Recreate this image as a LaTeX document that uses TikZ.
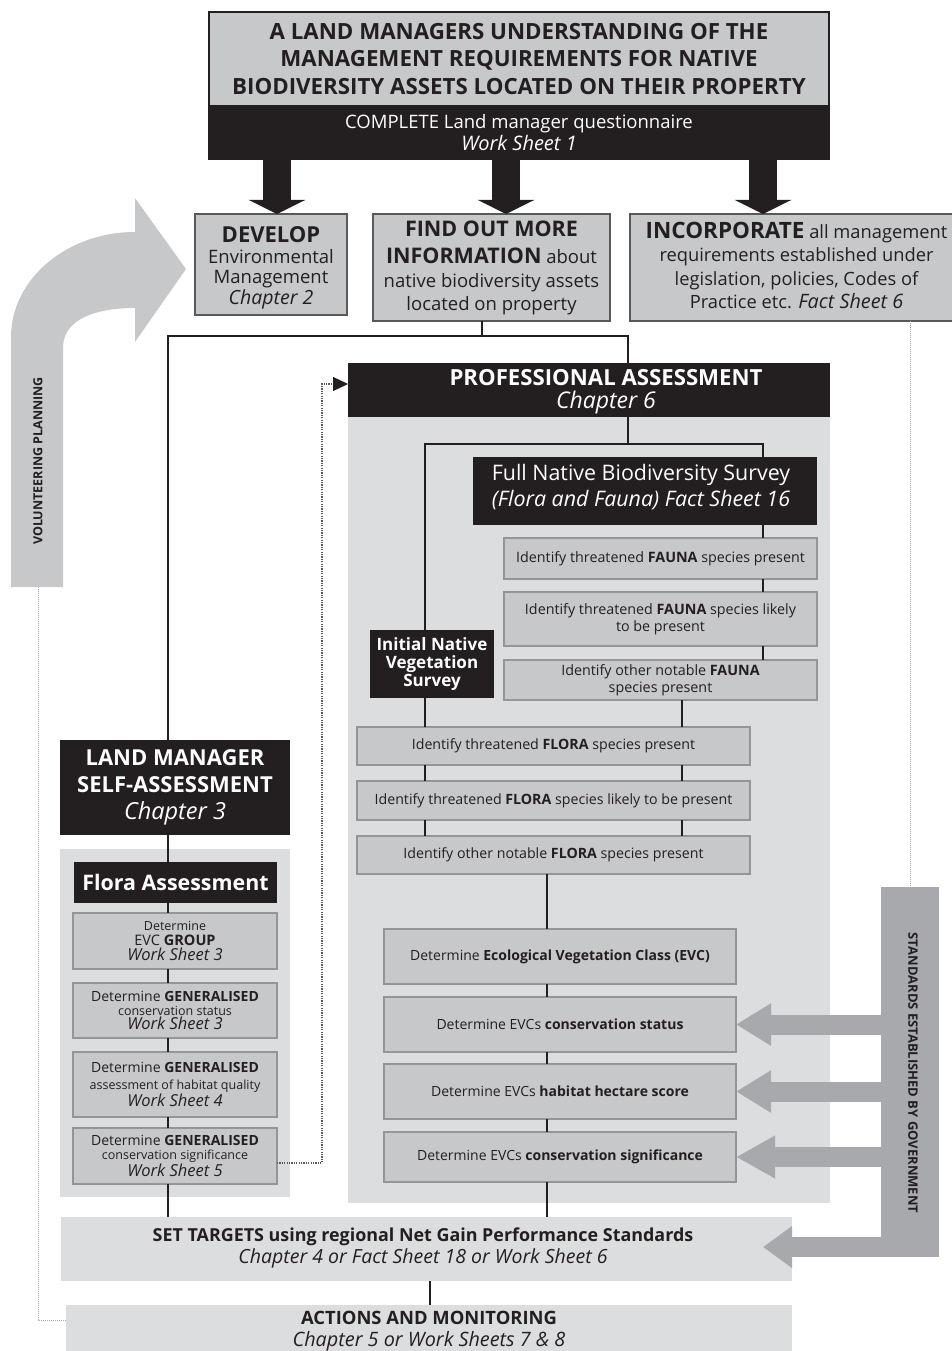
\documentclass[tikz,border=0pt]{standalone}
\usepackage{fontspec}
\setmainfont{Open Sans}
\usetikzlibrary{arrows.meta}
\definecolor{ink}{HTML}{231F20}
\definecolor{boxgray}{HTML}{C7C8CA}
\definecolor{panelgray}{HTML}{DCDDDF}
\definecolor{edgegray}{HTML}{939598}
\definecolor{framegray}{HTML}{58595B}
\definecolor{govgray}{HTML}{A7A9AC}
\newcommand\fsz[2]{\fontsize{#1pt}{#2pt}\selectfont}

\begin{document}
\begin{tikzpicture}[x=1pt,y=-1pt,
  every node/.style={inner sep=0pt, outer sep=0pt, align=center, text=ink},
  topbox/.style={fill=boxgray, draw=ink, line width=2pt},
  choicebox/.style={fill=boxgray, draw=framegray, line width=1.6pt},
  darkbox/.style={fill=ink, text=white},
  stepbox/.style={fill=boxgray, draw=edgegray, line width=2pt},
  panel/.style={fill=panelgray},
  link/.style={draw=ink, line width=1.8pt},
  bigdown/.style={draw=ink, line width=28.5pt, -{Triangle[length=14pt,width=56pt]}},
  govarrow/.style={draw=govgray, line width=20pt, -{Triangle[length=35pt,width=40pt]}},
  dotdark/.style={draw=framegray, line width=1.2pt, dash pattern=on 1.2pt off 1.2pt},
  dotlight/.style={draw=govgray, line width=1pt, dash pattern=on 1pt off 1pt},
]
\useasboundingbox (0,0) rectangle (952,1351);
\clip (0,0) rectangle (952,1351);

% background panels
\node[panel, minimum width=482pt, minimum height=786pt] (profpanel) at (589,810) {};
\node[panel, minimum width=230pt, minimum height=348pt] (florapanel) at (175,1023) {};
\node[panel, minimum width=731pt, minimum height=64pt] (set) at (426.5,1249) {};
\node[font=\fsz{17.9}{22}] (settext) at (423,1248)
  {\textbf{SET TARGETS using regional Net Gain Performance Standards}\\{\fsz{19.5}{22}\itshape Chapter 4 or Fact Sheet 18 or Work Sheet 6}};
\node[panel, minimum width=726pt, minimum height=55pt] (act) at (429,1332.5) {};
\node[font=\fsz{18.4}{22}] (acttext) at (429,1331.5)
  {\textbf{ACTIONS AND MONITORING}\\{\fsz{19.8}{22}\itshape Chapter 5 or Work Sheets 7 \& 8}};

% volunteering planning arrow
\fill[boxgray] (11,587) -- (11,337) .. controls (11,279) and (67,232) .. (135,232)
  -- (135,198) -- (186,269) -- (135,342) -- (135,308)
  .. controls (98,308) and (63,318) .. (63,348) -- (63,587) -- cycle;
\node[rotate=90, font=\fsz{12.5}{14}\bfseries] (vollabel) at (38,461) {VOLUNTEERING PLANNING};

% header and first-level boxes
\node[topbox, minimum width=620pt, minimum height=94pt, font=\fsz{22.3}{27.5}\bfseries] (top) at (519,59)
  {A LAND MANAGERS UNDERSTANDING OF THE\\MANAGEMENT REQUIREMENTS FOR NATIVE\\BIODIVERSITY ASSETS LOCATED ON THEIR PROPERTY};
\node[darkbox, minimum width=622pt, minimum height=55pt, font=\fsz{18.5}{22}] (band) at (519,132.5)
  {COMPLETE Land manager questionnaire\\{\fsz{20}{22}\itshape Work Sheet 1}};

\node[choicebox, minimum width=152pt, minimum height=101pt] (dev) at (271,264.5) {};
\node[font=\fsz{18.5}{20.7}] (devtext) at (271,268)
  {{\fsz{22}{20.7}\bfseries DEVELOP}\\Environmental\\Management\\{\fsz{19.5}{20.7}\itshape Chapter 2}};
\node[choicebox, minimum width=237pt, minimum height=107pt, font=\fsz{18.5}{22.5}] (find) at (491.5,267.5)
  {{\fsz{21.5}{22.5}\bfseries FIND OUT MORE}\\[5pt]{\fsz{21.5}{22.5}\bfseries INFORMATION} about\\[1.5pt]native biodiversity assets\\located on property};
\node[choicebox, minimum width=333pt, minimum height=107pt] (inc) at (796.5,267.5) {};
\node[font=\fsz{18.3}{23.3}] (inctext) at (796.5,265.5)
  {{\fsz{22.5}{23.3}\bfseries INCORPORATE} all management\\requirements established under\\legislation, policies, Codes of\\Practice etc. {\fsz{19.8}{23.3}\itshape Fact Sheet 6}};

% thick arrows from the header
\coordinate (ar1) at (277,0);
\coordinate (ar2) at (506,0);
\coordinate (ar3) at (763,0);
\draw[bigdown] (band.south -| ar1) -- (dev.north -| ar1);
\draw[bigdown] (band.south -| ar2) -- (find.north -| ar2);
\draw[bigdown] (band.south -| ar3) -- (inc.north -| ar3);

% professional assessment header
\node[darkbox, minimum width=482pt, minimum height=54pt] (prof) at (589,390) {};
\node[text=white, font=\fsz{22.2}{23}] (proftext) at (606,391.5)
  {\textbf{PROFESSIONAL ASSESSMENT}\\{\fsz{23}{23}\itshape Chapter 6}};

% professional assessment steps
\node[darkbox, minimum width=344pt, minimum height=68pt] (full) at (645,491) {};
\node[text=white, font=\fsz{21.4}{26}] (fulltext) at (641,487)
  {Full Native Biodiversity Survey\\\textit{(Flora and Fauna) Fact Sheet 16}};
\node[stepbox, minimum width=313pt, minimum height=41pt, font=\fsz{14.3}{17.5}] (fa1) at (660.5,558.5)
  {Identify threatened \textbf{FAUNA} species present};
\node[stepbox, minimum width=313pt, minimum height=54pt, font=\fsz{14.3}{17.5}] (fa2) at (660.5,619)
  {Identify threatened \textbf{FAUNA} species likely\\to be present};
\node[stepbox, minimum width=313pt, minimum height=40pt, font=\fsz{14.3}{17.5}] (fa3) at (660.5,680)
  {Identify other notable \textbf{FAUNA}\\species present};
\node[darkbox, minimum width=124pt, minimum height=68pt, font=\fsz{17}{18}\bfseries] (ini) at (432,664)
  {Initial Native\\Vegetation\\Survey};
\node[stepbox, minimum width=393pt, minimum height=38pt, font=\fsz{14.2}{17}] (fl1) at (553.5,746)
  {Identify threatened \textbf{FLORA} species present};
\node[stepbox, minimum width=393pt, minimum height=39pt, font=\fsz{14.2}{17}] (fl2) at (553.5,800.5)
  {Identify threatened \textbf{FLORA} species likely to be present};
\node[stepbox, minimum width=393pt, minimum height=38pt, font=\fsz{14.2}{17}] (fl3) at (553.5,855)
  {Identify other notable \textbf{FLORA} species present};
\node[stepbox, minimum width=352pt, minimum height=55pt, font=\fsz{14}{17}] (evc) at (560,956.5)
  {Determine \textbf{Ecological Vegetation Class (EVC)}};
\node[stepbox, minimum width=352pt, minimum height=55pt, font=\fsz{14}{17}] (st) at (560,1024.5)
  {Determine EVCs \textbf{conservation status}};
\node[stepbox, minimum width=352pt, minimum height=55pt, font=\fsz{14}{17}] (hh) at (560,1091.5)
  {Determine EVCs \textbf{habitat hectare score}};
\node[stepbox, minimum width=352pt, minimum height=50pt, font=\fsz{14}{17}] (sig) at (560,1157)
  {Determine EVCs \textbf{conservation significance}};

% land manager self-assessment
\node[darkbox, minimum width=230pt, minimum height=95pt, font=\fsz{22}{27}\bfseries] (lm) at (175,787.5)
  {LAND MANAGER\\SELF-ASSESSMENT\\{\fsz{23.5}{27}\mdseries\itshape Chapter 3}};
\node[darkbox, minimum width=203pt, minimum height=41pt, font=\fsz{21.4}{22}\bfseries] (fassess) at (175.5,882.5)
  {Flora Assessment};
\node[stepbox, minimum width=204pt, minimum height=56pt, font=\fsz{13}{15}] (g1) at (175,941)
  {{\fsz{12.5}{15}Determine}\\{\fsz{14.5}{15}EVC \textbf{GROUP}}\\{\fsz{16.5}{15}\itshape Work Sheet 3}};
\node[stepbox, minimum width=204pt, minimum height=55pt, font=\fsz{13}{14}] (g2) at (175,1010.5)
  {{\fsz{14}{14}Determine \textbf{GENERALISED}}\\{\fsz{12.5}{14}conservation status}\\{\fsz{16.5}{14}\itshape Work Sheet 3}};
\node[stepbox, minimum width=204pt, minimum height=65pt, font=\fsz{13}{17}] (g3) at (175,1084.5)
  {{\fsz{14}{17}Determine \textbf{GENERALISED}}\\{\fsz{12.5}{17}assessment of habitat quality}\\{\fsz{16.5}{17}\itshape Work Sheet 4}};
\node[stepbox, minimum width=204pt, minimum height=56pt, font=\fsz{13}{14}] (g4) at (175,1156)
  {{\fsz{14}{14}Determine \textbf{GENERALISED}}\\{\fsz{12.5}{14}conservation significance}\\{\fsz{16.5}{14}\itshape Work Sheet 5}};

% standards bar
\node[fill=govgray, minimum width=58pt, minimum height=370pt] (std) at (910,1072) {};

% connectors
\coordinate (busL) at (168,336);
\coordinate (busM) at (482,336);
\coordinate (busR) at (628,336);
\draw[link] (find.south -| busM) -- (busM);
\draw[link] (lm.north -| busL) -- (busL) -- (busR) -- (prof.north -| busR);

\coordinate (forkL) at (425,444);
\coordinate (forkM) at (628,444);
\coordinate (forkR) at (763,444);
\draw[link] (prof.south -| forkM) -- (forkM);
\draw[link] (ini.north -| forkL) -- (forkL) -- (forkR) -- (full.north -| forkR);
\draw[link] (full.south -| forkR) -- (fa1.north -| forkR);
\draw[link] (fa1.south -| forkR) -- (fa2.north -| forkR);
\draw[link] (fa2.south -| forkR) -- (fa3.north -| forkR);

\coordinate (colF) at (682,0);
\draw[link] (fa3.south -| colF) -- (fl1.north -| colF);
\draw[link] (fl1.south -| colF) -- (fl2.north -| colF);
\draw[link] (fl2.south -| colF) -- (fl3.north -| colF);
\draw[link] (ini.south -| forkL) -- (fl1.north -| forkL);
\draw[link] (fl1.south -| forkL) -- (fl2.north -| forkL);
\draw[link] (fl2.south -| forkL) -- (fl3.north -| forkL);

\coordinate (colE) at (547,0);
\draw[link] (fl3.south -| colE) -- (evc.north -| colE);
\draw[link] (evc.south -| colE) -- (st.north -| colE);
\draw[link] (st.south -| colE) -- (hh.north -| colE);
\draw[link] (hh.south -| colE) -- (sig.north -| colE);
\draw[link] (sig.south -| colE) -- (set.north -| colE);

\coordinate (colA) at (168,0);
\draw[link] (lm.south -| colA) -- (fassess.north -| colA);
\draw[link] (fassess.south -| colA) -- (g1.north -| colA);
\draw[link] (g1.south -| colA) -- (g2.north -| colA);
\draw[link] (g2.south -| colA) -- (g3.north -| colA);
\draw[link] (g3.south -| colA) -- (g4.north -| colA);
\draw[link] (g4.south -| colA) -- (set.north -| colA);

\coordinate (colS) at (430,0);
\draw[link] (set.south -| colS) -- (act.north -| colS);

% dotted feedback lines
\coordinate (dotx) at (322,0);
\coordinate (pin) at ([yshift=6pt]prof.west);
\draw[dotdark, -{Triangle[length=15pt,width=14pt,color=ink]}]
  ([yshift=-7pt]g4.east) -| (dotx |- pin) -- (pin);
\coordinate (volfoot) at (38,587);
\draw[dotlight] (volfoot) |- ([yshift=12.5pt]act.west);
\draw[dotlight] (inc.south -| std.north) -- (std.north);

% government standards arrows
\coordinate (settip) at ([xshift=-29pt,yshift=2pt]set.east);
\draw[govarrow] (std.center |- st.east) -- (st.east);
\draw[govarrow] (std.center |- hh.east) -- (hh.east);
\draw[govarrow, -{Triangle[length=39pt,width=40pt]}] (std.center |- sig.east) -- (sig.east);
\draw[govarrow, -{Triangle[length=29pt,width=40pt]}] (std.center |- settip) -- (settip);
\node[rotate=-90, font=\fsz{13}{14}\bfseries] (stdlabel) at (913,1073) {STANDARDS ESTABLISHED BY GOVERNMENT};
\end{tikzpicture}
\end{document}
